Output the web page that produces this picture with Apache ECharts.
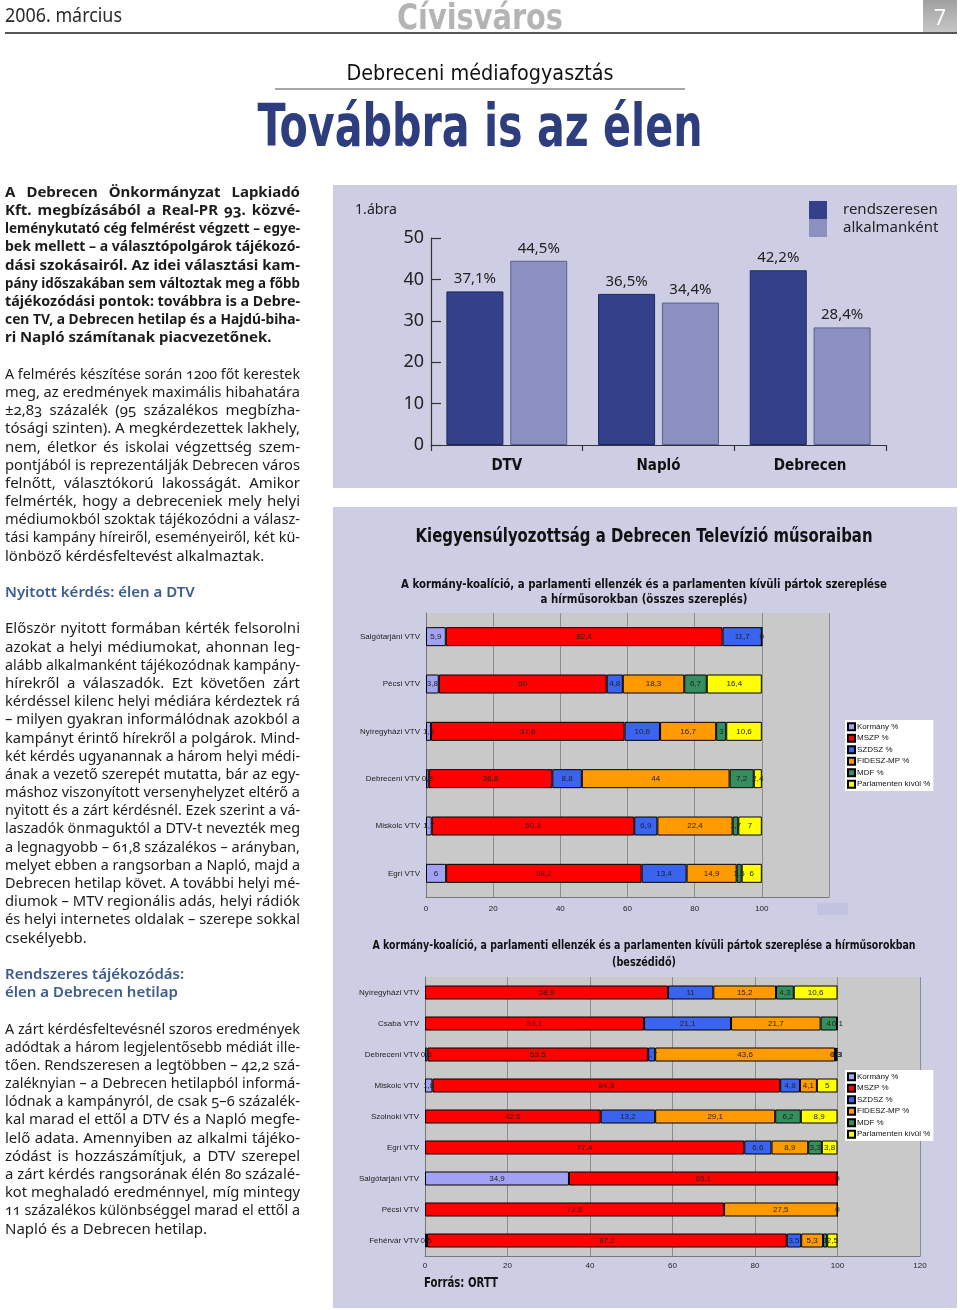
<!DOCTYPE html>
<html lang="hu">
<head>
<meta charset="utf-8">
<title>Továbbra is az élen</title>
<script src="https://cdn.jsdelivr.net/npm/echarts@6/dist/echarts.min.js"></script>
<style>
html,body{margin:0;padding:0;background:#fff;}
#page{position:relative;width:960px;height:1310px;overflow:hidden;}
#chart{position:absolute;left:0;top:0;width:960px;height:1310px;}
#col{position:absolute;left:5px;top:181.9px;width:295px;font-family:"Noto Sans",sans-serif;font-size:15px;line-height:18.2px;color:#1c1c1c;font-variant-numeric:oldstyle-nums;}
#col .l{white-space:nowrap;height:18.2px;}
#col .l span{display:inline-block;transform-origin:0 50%;}
#col .b{font-weight:700;}
#col .h{font-weight:600;color:#3d5c8f;}
</style>
</head>
<body>
<div id="page">
  <div id="chart"></div>
  <div id="col"></div>
</div>
<script>
// ---------------- DATA ----------------
const cats1 = ['DTV', 'Napló', 'Debrecen'];
const regular1 = [37.1, 36.5, 42.2];      // rendszeresen
const occasional1 = [44.5, 34.4, 28.4];   // alkalmanként

const parties = ['Kormány %', 'MSZP %', 'SZDSZ %', 'FIDESZ-MP %', 'MDF %', 'Parlamenten kívül %'];

// Chart 2: összes szereplés
const cats2 = ['Salgótarjáni VTV', 'Pécsi VTV', 'Nyíregyházi VTV', 'Debreceni VTV', 'Miskolc VTV', 'Egri VTV'];
const korm2 = [5.9, 3.8, 1.5, 0.8, 1.7, 6];
const mszp2 = [82.4, 50, 57.6, 36.8, 60.3, 58.2];
const szdsz2 = [11.7, 4.8, 10.6, 8.8, 6.9, 13.4];
const fidesz2 = [0, 18.3, 16.7, 44, 22.4, 14.9];
const mdf2 = [null, 6.7, 3, 7.2, 1.7, 1.5];
const parl2 = [null, 16.4, 10.6, 2.4, 7, 6];

// Chart 3: beszédidő
const cats3 = ['Nyíregyházi VTV', 'Csaba VTV', 'Debreceni VTV', 'Miskolc VTV', 'Szolnoki VTV', 'Egri VTV', 'Salgótarjáni VTV', 'Pécsi VTV', 'Fehérvár VTV'];
const korm3 = [null, null, 0.6, 1.8, null, null, 34.9, null, 0.5];
const mszp3 = [58.9, 53.1, 53.5, 84.3, 42.6, 77.4, 65.1, 72.5, 87.2];
const szdsz3 = [11, 21.1, 1.7, 4.8, 13.2, 6.6, null, null, 3.5];
const fidesz3 = [15.2, 21.7, 43.6, 4.1, 29.1, 8.9, null, 27.5, 5.3];
const mdf3 = [4.3, 4, 0.3, null, 6.2, 3.3, null, null, 1];
const parl3 = [10.6, 0.1, 0.3, 5, 8.9, 3.8, 0, 0, 2.5];

// ---------------- STYLE ----------------
const partyColors = ['#a2a2f4', '#ff0000', '#3a63ef', '#ff9a00', '#358e5e', '#ffff00'];
const COND = 'DejaVu Sans Condensed, DejaVu Sans, sans-serif';
const NOTO = 'Noto Sans, sans-serif';
const ARIAL = 'Liberation Sans, Arial, sans-serif';
const fmt = v => String(v).replace('.', ',');

// ---------------- ARTICLE TEXT ----------------
const columnLines = [
 {c:'b', t:'A Debrecen Önkormányzat Lapkiadó'},
 {c:'b', t:'Kft. megbízásából a Real-PR 93. közvé-'},
 {c:'b', t:'leménykutató cég felmérést végzett – egye-'},
 {c:'b', t:'bek mellett – a választópolgárok tájékozó-'},
 {c:'b', t:'dási szokásairól. Az idei választási kam-'},
 {c:'b', t:'pány időszakában sem változtak meg a főbb'},
 {c:'b', t:'tájékozódási pontok: továbbra is a Debre-'},
 {c:'b', t:'cen TV, a Debrecen hetilap és a Hajdú-biha-'},
 {c:'b', t:'ri Napló számítanak piacvezetőnek.', e:1},
 {c:'', t:'', e:1},
 {c:'', t:'A felmérés készítése során 1200 főt kerestek'},
 {c:'', t:'meg, az eredmények maximális hibahatára'},
 {c:'', t:'±2,83 százalék (95 százalékos megbízha-'},
 {c:'', t:'tósági szinten). A megkérdezettek lakhely,'},
 {c:'', t:'nem, életkor és iskolai végzettség szem-'},
 {c:'', t:'pontjából is reprezentálják Debrecen város'},
 {c:'', t:'felnőtt, választókorú lakosságát. Amikor'},
 {c:'', t:'felmérték, hogy a debreceniek mely helyi'},
 {c:'', t:'médiumokból szoktak tájékozódni a válasz-'},
 {c:'', t:'tási kampány híreiről, eseményeiről, két kü-'},
 {c:'', t:'lönböző kérdésfeltevést alkalmaztak.', e:1},
 {c:'', t:'', e:1},
 {c:'h', t:'Nyitott kérdés: élen a DTV', e:1},
 {c:'', t:'', e:1},
 {c:'', t:'Először nyitott formában kérték felsorolni'},
 {c:'', t:'azokat a helyi médiumokat, ahonnan leg-'},
 {c:'', t:'alább alkalmanként tájékozódnak kampány-'},
 {c:'', t:'hírekről a válaszadók. Ezt követően zárt'},
 {c:'', t:'kérdéssel kilenc helyi médiára kérdeztek rá'},
 {c:'', t:'– milyen gyakran informálódnak azokból a'},
 {c:'', t:'kampányt érintő hírekről a polgárok. Mind-'},
 {c:'', t:'két kérdés ugyanannak a három helyi médi-'},
 {c:'', t:'ának a vezető szerepét mutatta, bár az egy-'},
 {c:'', t:'máshoz viszonyított versenyhelyzet eltérő a'},
 {c:'', t:'nyitott és a zárt kérdésnél. Ezek szerint a vá-'},
 {c:'', t:'laszadók önmaguktól a DTV-t nevezték meg'},
 {c:'', t:'a legnagyobb – 61,8 százalékos – arányban,'},
 {c:'', t:'melyet ebben a rangsorban a Napló, majd a'},
 {c:'', t:'Debrecen hetilap követ. A további helyi mé-'},
 {c:'', t:'diumok – MTV regionális adás, helyi rádiók'},
 {c:'', t:'és helyi internetes oldalak – szerepe sokkal'},
 {c:'', t:'csekélyebb.', e:1},
 {c:'', t:'', e:1},
 {c:'h', t:'Rendszeres tájékozódás:', e:1},
 {c:'h', t:'élen a Debrecen hetilap', e:1},
 {c:'', t:'', e:1},
 {c:'', t:'A zárt kérdésfeltevésnél szoros eredmények'},
 {c:'', t:'adódtak a három legjelentősebb médiát ille-'},
 {c:'', t:'tően. Rendszeresen a legtöbben – 42,2 szá-'},
 {c:'', t:'zaléknyian – a Debrecen hetilapból informá-'},
 {c:'', t:'lódnak a kampányról, de csak 5–6 százalék-'},
 {c:'', t:'kal marad el ettől a DTV és a Napló megfe-'},
 {c:'', t:'lelő adata. Amennyiben az alkalmi tájéko-'},
 {c:'', t:'zódást is hozzászámítjuk, a DTV szerepel'},
 {c:'', t:'a zárt kérdés rangsorának élén 80 százalé-'},
 {c:'', t:'kot meghaladó eredménnyel, míg mintegy'},
 {c:'', t:'11 százalékos különbséggel marad el ettől a'},
 {c:'', t:'Napló és a Debrecen hetilap.', e:1}
];

(function buildColumn(){
  const col = document.getElementById('col');
  const target = 295;
  columnLines.forEach(L => {
    const d = document.createElement('div');
    d.className = 'l' + (L.c ? ' ' + L.c : '');
    const s = document.createElement('span');
    s.textContent = L.t;
    d.appendChild(s);
    col.appendChild(d);
    if (!L.t) return;
    const w = s.getBoundingClientRect().width;
    if (w > target) {
      s.style.transform = 'scaleX(' + (target / w) + ')';
    } else if (!L.e) {
      const n = (L.t.match(/ /g) || []).length;
      if (n > 0) s.style.wordSpacing = ((target - w) / n) + 'px';
    }
  });
})();

// ---------------- CHART ----------------
const mctx = document.createElement('canvas').getContext('2d');
function measure(text, size, weight, family) {
  mctx.font = weight + ' ' + size + 'px ' + family;
  return mctx.measureText(text).width;
}
function txt(text, x, y, size, weight, family, fill, align, targetW) {
  const sx = targetW ? targetW / measure(text, size, weight, family) : 1;
  return {
    type: 'text', x: x, y: y, scaleX: sx, scaleY: 1, z: 100, silent: true,
    style: {
      text: text, x: 0, y: 0, fontSize: size, fontWeight: weight, fontFamily: family, fill: fill,
      align: align, verticalAlign: 'middle', textAlign: align, textVerticalAlign: 'middle'
    }
  };
}

const graphics = [
  {type: 'rect', z: -10, silent: true, shape: {x: 333, y: 185, width: 624, height: 303}, style: {fill: '#cdcee4'}},
  {type: 'rect', z: -10, silent: true, shape: {x: 333, y: 507, width: 624, height: 801}, style: {fill: '#cdcee4'}},
  {type: 'line', z: 50, silent: true, shape: {x1: 5, y1: 33, x2: 957, y2: 33}, style: {stroke: '#555', lineWidth: 2}},
  {type: 'rect', z: 50, silent: true, shape: {x: 923, y: 0, width: 34, height: 32},
    style: {fill: {type: 'linear', x: 0, y: 0, x2: 0, y2: 1, colorStops: [{offset: 0, color: '#a0a0a0'}, {offset: 1, color: '#c6c6c6'}]}}},
  txt('7', 940, 19, 21, 'normal', NOTO, '#ffffff', 'center'),
  txt('2006. március', 5, 17, 19, 'normal', NOTO, '#2a2a2a', 'left', 117),
  txt('Cívisváros', 480, 20, 35, 'bold', COND, '#b4b4b4', 'center', 166),
  txt('Debreceni médiafogyasztás', 480, 75, 21, 'normal', COND, '#111', 'center', 267),
  {type: 'line', z: 50, silent: true, shape: {x1: 275, y1: 89, x2: 685, y2: 89}, style: {stroke: '#888', lineWidth: 1.5}},
  txt('Továbbra is az élen', 480, 131, 58, 'bold', COND, '#2e3d7e', 'center', 445),
  txt('1.ábra', 355, 210, 15, 'normal', NOTO, '#222', 'left', 42),
  txt('Kiegyensúlyozottság a Debrecen Televízió műsoraiban', 644, 537, 19, 'bold', COND, '#111', 'center', 457),
  txt('A kormány-koalíció, a parlamenti ellenzék és a parlamenten kívüli pártok szereplése', 644, 585, 13, 'bold', COND, '#111', 'center', 486),
  txt('a hírműsorokban (összes szereplés)', 644, 600, 13, 'bold', COND, '#111', 'center', 207),
  txt('A kormány-koalíció, a parlamenti ellenzék és a parlamenten kívüli pártok szereplése a hírműsorokban', 644, 946, 13, 'bold', COND, '#111', 'center', 543),
  txt('(beszédidő)', 644, 963, 13, 'bold', COND, '#111', 'center', 64),
  txt('Forrás: ORTT', 424, 1283, 14, 'bold', COND, '#111', 'left', 74),
  {type: 'rect', z: 60, silent: true, shape: {x: 817, y: 903, width: 31, height: 12}, style: {fill: '#c2c3e0'}}
];

const data2 = [korm2, mszp2, szdsz2, fidesz2, mdf2, parl2];
const data3 = [korm3, mszp3, szdsz3, fidesz3, mdf3, parl3];

function stackSeries(dataArr, axisIdx, stack, barW) {
  return parties.map((name, i) => ({
    name: name, type: 'bar', stack: stack,
    xAxisIndex: axisIdx, yAxisIndex: axisIdx,
    data: dataArr[i], barWidth: barW,
    itemStyle: {color: partyColors[i], borderColor: '#000', borderWidth: 1},
    label: {show: true, position: 'inside', fontSize: 8, fontFamily: ARIAL, color: '#222',
      formatter: p => fmt(p.value)},
    emphasis: {disabled: true}
  }));
}

const smallAxisLabel = {fontSize: 8, fontFamily: ARIAL, color: '#222'};

const option = {
  animation: false,
  backgroundColor: 'transparent',
  graphic: graphics,
  legend: [
    {data: ['rendszeresen', 'alkalmanként'], orient: 'vertical', left: 809, top: 201,
      itemWidth: 18, itemHeight: 18, itemGap: 0, padding: 0, icon: 'rect', selectedMode: false,
      itemStyle: {borderWidth: 0},
      textStyle: {fontSize: 15, fontFamily: NOTO, color: '#222', padding: [0, 0, 0, 11]}},
    {data: parties, orient: 'vertical', left: 845, top: 720, backgroundColor: '#fff',
      padding: [2, 3, 2, 2], itemWidth: 7, itemHeight: 7, itemGap: 2, icon: 'rect', selectedMode: false,
      textStyle: {fontSize: 8, lineHeight: 9.5, fontFamily: ARIAL, color: '#111', padding: [0, 0, 0, -3]}},
    {data: parties, orient: 'vertical', left: 845, top: 1070, backgroundColor: '#fff',
      padding: [2, 3, 2, 2], itemWidth: 7, itemHeight: 7, itemGap: 2, icon: 'rect', selectedMode: false,
      textStyle: {fontSize: 8, lineHeight: 9.5, fontFamily: ARIAL, color: '#111', padding: [0, 0, 0, -3]}}
  ],
  grid: [
    {left: 431, top: 238, width: 455, height: 207, containLabel: false, outerBoundsMode: 'none'},
    {left: 426, top: 613, width: 403, height: 284, containLabel: false, outerBoundsMode: 'none',
      show: true, backgroundColor: '#c9c9c9', borderWidth: 0},
    {left: 425, top: 977, width: 495, height: 279, containLabel: false, outerBoundsMode: 'none',
      show: true, backgroundColor: '#c9c9c9', borderWidth: 0}
  ],
  xAxis: [
    {type: 'category', gridIndex: 0, data: cats1,
      axisLine: {show: true, lineStyle: {color: '#333', width: 1.2}},
      axisTick: {show: true, alignWithLabel: false, length: 6, lineStyle: {color: '#333', width: 1.2}},
      axisLabel: {fontSize: 15, fontWeight: 'bold', fontFamily: COND, color: '#111', margin: 14},
      splitLine: {show: false}},
    {type: 'value', gridIndex: 1, min: 0, max: 120, interval: 20,
      axisLine: {show: true, lineStyle: {color: '#777'}},
      axisTick: {show: false},
      splitLine: {show: true, lineStyle: {color: '#8c8c8c', width: 1}},
      axisLabel: Object.assign({margin: 8, formatter: v => (v === 120 ? '' : String(v))}, smallAxisLabel)},
    {type: 'value', gridIndex: 2, min: 0, max: 120, interval: 20,
      axisLine: {show: true, lineStyle: {color: '#777'}},
      axisTick: {show: false},
      splitLine: {show: true, lineStyle: {color: '#8c8c8c', width: 1}},
      axisLabel: Object.assign({margin: 6}, smallAxisLabel)}
  ],
  yAxis: [
    {type: 'value', gridIndex: 0, min: 0, max: 50, interval: 10,
      axisLine: {show: true, lineStyle: {color: '#333', width: 1.2}},
      axisTick: {show: true, inside: true, length: 10, lineStyle: {color: '#333', width: 1.2}},
      splitLine: {show: false},
      axisLabel: {fontSize: 18, fontFamily: NOTO, color: '#222', margin: 7}},
    {type: 'category', gridIndex: 1, data: cats2, inverse: true,
      axisLine: {show: true, lineStyle: {color: '#777'}},
      axisTick: {show: false},
      axisLabel: Object.assign({margin: 6, interval: 0}, smallAxisLabel)},
    {type: 'category', gridIndex: 2, data: cats3, inverse: true,
      axisLine: {show: true, lineStyle: {color: '#777'}},
      axisTick: {show: false},
      axisLabel: Object.assign({margin: 6, interval: 0}, smallAxisLabel)}
  ],
  series: [
    {name: 'rendszeresen', type: 'bar', xAxisIndex: 0, yAxisIndex: 0, data: regular1,
      barWidth: 57, barGap: '12%',
      itemStyle: {color: '#34418a', borderColor: '#1f2860', borderWidth: 1},
      label: {show: true, position: 'top', distance: 5, fontSize: 15, fontFamily: NOTO, color: '#222',
        formatter: p => fmt(p.value) + '%'},
      emphasis: {disabled: true}},
    {name: 'alkalmanként', type: 'bar', xAxisIndex: 0, yAxisIndex: 0, data: occasional1,
      barWidth: 57, barGap: '12%',
      itemStyle: {color: '#8b90c0', borderColor: '#5b5f8e', borderWidth: 1},
      label: {show: true, position: 'top', distance: 5, fontSize: 15, fontFamily: NOTO, color: '#222',
        formatter: p => fmt(p.value) + '%'},
      emphasis: {disabled: true}}
  ].concat(stackSeries(data2, 1, 'osszes', 19), stackSeries(data3, 2, 'beszed', 14))
};

const chart = echarts.init(document.getElementById('chart'), null, {renderer: 'canvas', width: 960, height: 1310});
chart.setOption(option);
</script>
</body>
</html>
